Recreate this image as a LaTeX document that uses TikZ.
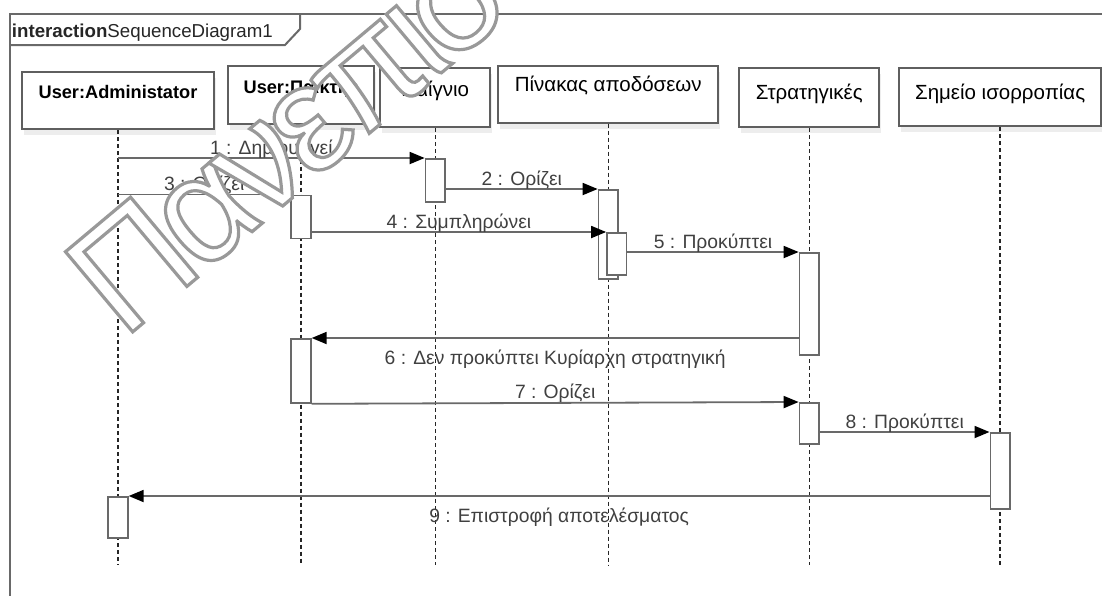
\documentclass[tikz,border=0pt]{standalone}
\usepackage{fontspec}
\setmainfont{Liberation Sans}
\usetikzlibrary{arrows.meta,shadows}
\definecolor{linegray}{RGB}{105,105,105}
\definecolor{boxgray}{RGB}{95,95,95}

\begin{document}
\begin{tikzpicture}[x=1pt,y=-1pt,>={Triangle[length=15pt,width=12pt,color=black]},
                    font=\fontsize{19.3}{22}\selectfont]
  \tikzstyle{head}=[draw=boxgray,line width=2pt,fill=white,inner sep=0pt,
                    anchor=north west,text=black,
                    drop shadow={shadow xshift=2pt,shadow yshift=-6pt,fill=black!7,opacity=1}]
  \tikzstyle{bhead}=[font=\fontsize{18.2}{20}\selectfont\bfseries]
  \tikzstyle{rhead}=[font=\fontsize{20.5}{22}\selectfont]
  \tikzstyle{act}=[draw=linegray,line width=1.8pt,fill=white,inner sep=0pt,
                   anchor=north,minimum width=19.5pt]
  \tikzstyle{life}=[black!85,line width=1.4pt,dash pattern=on 4pt off 3pt]
  \tikzstyle{msg}=[->,line width=1.8pt,every edge/.style={draw=linegray}]
  \tikzstyle{msgup}=[anchor=base,yshift=4pt,inner sep=0pt,text=black!75]
  \tikzstyle{msgdown}=[anchor=base,yshift=-26pt,inner sep=0pt,text=black!75]

  \useasboundingbox (0,0) rectangle (1102,595);
  \clip (0,0) rectangle (1102,595);

  % frame and its name tab
  \draw[linegray,line width=2pt] (9.5,600) -- (9.5,13.5) -- (1110,13.5);
  \draw[linegray,line width=2pt] (9.5,45) -- (285,45) -- (300,29) -- (300,13.5);
  \node[anchor=base west,inner sep=0pt,font=\fontsize{18.7}{20}\selectfont,text=black!85]
    (frame) at (11.7,37) {\textbf{interaction}SequenceDiagram1};

  % lifeline heads
  \node[head,bhead,minimum width=192.6pt,text height=26.3pt,text depth=31.3pt]
    (adm) at (20.7,70.7) {User:Administator};
  \node[head,bhead,minimum width=146.6pt,text height=27.5pt,text depth=30.2pt]
    (pk) at (226.7,65) {User:Παίκτης};
  \node[head,rhead,minimum width=110pt,text height=27.7pt,text depth=31pt]
    (ga) at (379.3,67.3) {Παίγνιο};
  \node[head,rhead,minimum width=220pt,text height=25pt,text depth=31.7pt]
    (pn) at (497.3,65) {Πίνακας αποδόσεων};
  \node[head,rhead,minimum width=140pt,text height=30.7pt,text depth=28pt]
    (st) at (738.3,67.3) {Στρατηγικές};
  \node[head,rhead,minimum width=201.7pt,text height=31.2pt,text depth=26.5pt]
    (sm) at (898.3,67.3) {Σημείο ισορροπίας};

  % message rows
  \coordinate (r1) at (0,158);
  \coordinate (r2) at (0,189);
  \coordinate (r3) at (0,194.5);
  \coordinate (r4) at (0,232);
  \coordinate (r5) at (0,252);
  \coordinate (r6) at (0,338);
  \coordinate (r7) at (0,402);
  \coordinate (r8) at (0,432);
  \coordinate (r9) at (0,496);
  \coordinate (bot) at (0,565);

  \foreach \h in {adm,pk,ga,pn,st,sm}
    \draw[life] (\h.south) -- (\h.south |- bot);

  % activations
  \node[act,minimum height=43pt] (ga1) at (ga.south |- r1) {};
  \node[act,minimum height=89pt] (pn1) at (pn.south |- r2) {};
  \node[act,minimum height=43pt] (pk1) at (pk.south |- r3) {};
  \node[act,minimum height=42pt,xshift=8.5pt] (pn2) at (pn.south |- r4) {};
  \node[act,minimum height=102pt] (st1) at (st.south |- r5) {};
  \node[act,minimum height=64pt] (pk2) at (pk.south |- r6) {};
  \node[act,minimum height=41pt] (st2) at (st.south |- r7) {};
  \node[act,minimum height=76pt] (sm1) at (sm.south |- r8) {};
  \node[act,minimum height=41pt] (ad1) at (adm.south |- r9) {};

  \path[msg] (adm.south |- r1) edge node[msgup] (m1) {1 : Δημιουργεί} (ga1.north west)
             (ga1.east |- r2) edge node[msgup] (m2) {2 : Ορίζει} (pn1.north west)
             (adm.south |- r3) edge node[msgup] (m3) {3 : Ορίζει} (pk1.north west)
             (pk1.east |- r4) edge node[msgup] (m4) {4 : Συμπληρώνει} (pn2.north west)
             (pn2.east |- r5) edge node[msgup] (m5) {5 : Προκύπτει} (st1.north west)
             (st1.west |- r6) edge node[msgdown] (m6) {6 : Δεν προκύπτει Κυρίαρχη στρατηγική} (pk2.north east)
             (pk2.south east) edge node[msgup] (m7) {7 : Ορίζει} (st2.north west)
             (st2.east |- r8) edge node[msgup] (m8) {8 : Προκύπτει} (sm1.north west)
             (sm1.west |- r9) edge node[msgdown] (m9) {9 : Επιστροφή αποτελέσματος} (ad1.north east);

  % outlined stamp on top
  \node[rotate=40,anchor=base west,inner sep=0pt,
        font=\fontsize{152}{152}\selectfont\addfontfeatures{LetterSpace=-6}]
    (stamp) at (123,340)
    {\color{white}\special{pdf:literal direct 0.6 G 3.2 w 2 Tr}Πανεπιστήμιο\special{pdf:literal direct 0 Tr}};
\end{tikzpicture}
\end{document}
